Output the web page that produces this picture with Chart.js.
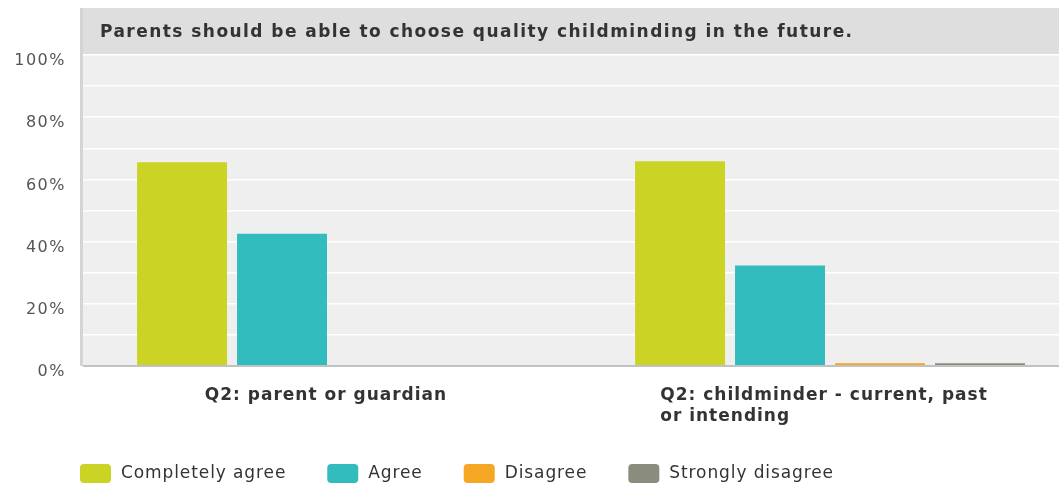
<!DOCTYPE html>
<html><head><meta charset="utf-8">
<script src="https://cdn.jsdelivr.net/npm/chart.js@4"></script>
<style>html,body{margin:0;padding:0;overflow:hidden;background:#fff}#wrap{width:1080px;height:483px;position:relative}</style>
</head><body><div id="wrap"><canvas id="c"></canvas></div>
<script>
const chartTitle = 'Parents should be able to choose quality childminding in the future.';
const categories = [['Q2: parent or guardian'], ['Q2: childminder - current, past', 'or intending']];
const seriesNames = ['Completely agree', 'Agree', 'Disagree', 'Strongly disagree'];
const completelyAgree = [65.5, 65.8];
const agree = [42.5, 32.3];
const disagree = [0, 0.9];
const stronglyDisagree = [0, 0.9];
const seriesColors = ['#cbd325', '#33bcbe', '#f5a623', '#8a8d7d'];
const yTickValues = [0, 20, 40, 60, 80, 100];

const seriesValues = [completelyAgree, agree, disagree, stronglyDisagree];

const deco = {
  id: 'deco',
  beforeDraw(chart) {
    const { ctx, chartArea: a, width } = chart;
    ctx.save();
    ctx.fillStyle = '#dedede';
    ctx.fillRect(80, 8, width - 80, a.top - 8);
    ctx.fillStyle = '#efefef';
    ctx.fillRect(a.left, a.top, a.right - a.left, a.bottom - a.top);
    ctx.fillStyle = '#d4d4d4';
    ctx.fillRect(80, 8, 3, a.bottom - 8);
    ctx.restore();
    ctx.letterSpacing = '1.5px';
  },
  afterDraw(chart) {
    const { ctx, chartArea: a, scales: { x } } = chart;
    ctx.save();
    ctx.fillStyle = '#333';
    ctx.textBaseline = 'alphabetic';
    ctx.textAlign = 'left';
    ctx.letterSpacing = '1.45px';
    ctx.font = 'bold 17px "DejaVu Sans"';
    ctx.fillText(chartTitle, 100, 37);
    ctx.letterSpacing = '1px';
    categories.forEach((lines, i) => {
      const cx = x.getPixelForValue(i);
      const w = Math.max(...lines.map(l => ctx.measureText(l).width));
      lines.forEach((l, j) => ctx.fillText(l, cx - w / 2 - 6, a.bottom + 34 + j * 21));
    });
    ctx.font = '17px "DejaVu Sans"';
    ctx.letterSpacing = '0.9px';
    let lx = 80;
    chart.data.datasets.forEach(ds => {
      ctx.fillStyle = ds.backgroundColor;
      ctx.beginPath();
      ctx.roundRect(lx, a.bottom + 98, 31, 19, 4);
      ctx.fill();
      ctx.fillStyle = '#333';
      ctx.fillText(ds.label, lx + 41, a.bottom + 112);
      lx += 41 + ctx.measureText(ds.label).width + 41;
    });
    ctx.restore();
    ctx.letterSpacing = '0px';
  }
};

new Chart(document.getElementById('c'), {
  type: 'bar',
  data: {
    labels: categories,
    datasets: seriesNames.map((n, i) => ({
      label: n,
      data: seriesValues[i],
      backgroundColor: seriesColors[i],
      borderWidth: 0,
      categoryPercentage: 0.803,
      barPercentage: 0.9
    }))
  },
  options: {
    responsive: true,
    maintainAspectRatio: false,
    animation: false,
    layout: { padding: { top: 55, right: 1, bottom: 109, left: 0 } },
    plugins: { legend: { display: false }, title: { display: false }, tooltip: { enabled: false } },
    scales: {
      x: {
        grid: { display: false },
        border: { display: false },
        ticks: { display: false }
      },
      y: {
        min: 0, max: 100,
        afterFit: s => { s.width = 83; },
        border: { display: false },
        grid: {
          drawTicks: false,
          color: c => c.tick && c.tick.value === 0 ? '#c2c2c2' : '#ffffff',
          lineWidth: c => c.tick && c.tick.value === 0 ? 2 : 1.5
        },
        ticks: {
          stepSize: 10,
          padding: 17,
          labelOffset: 6,
          color: '#555',
          font: { family: 'DejaVu Sans', size: 16 },
          callback: v => yTickValues.includes(v) ? v + '%' : ''
        }
      }
    }
  },
  plugins: [deco]
});
</script></body></html>
